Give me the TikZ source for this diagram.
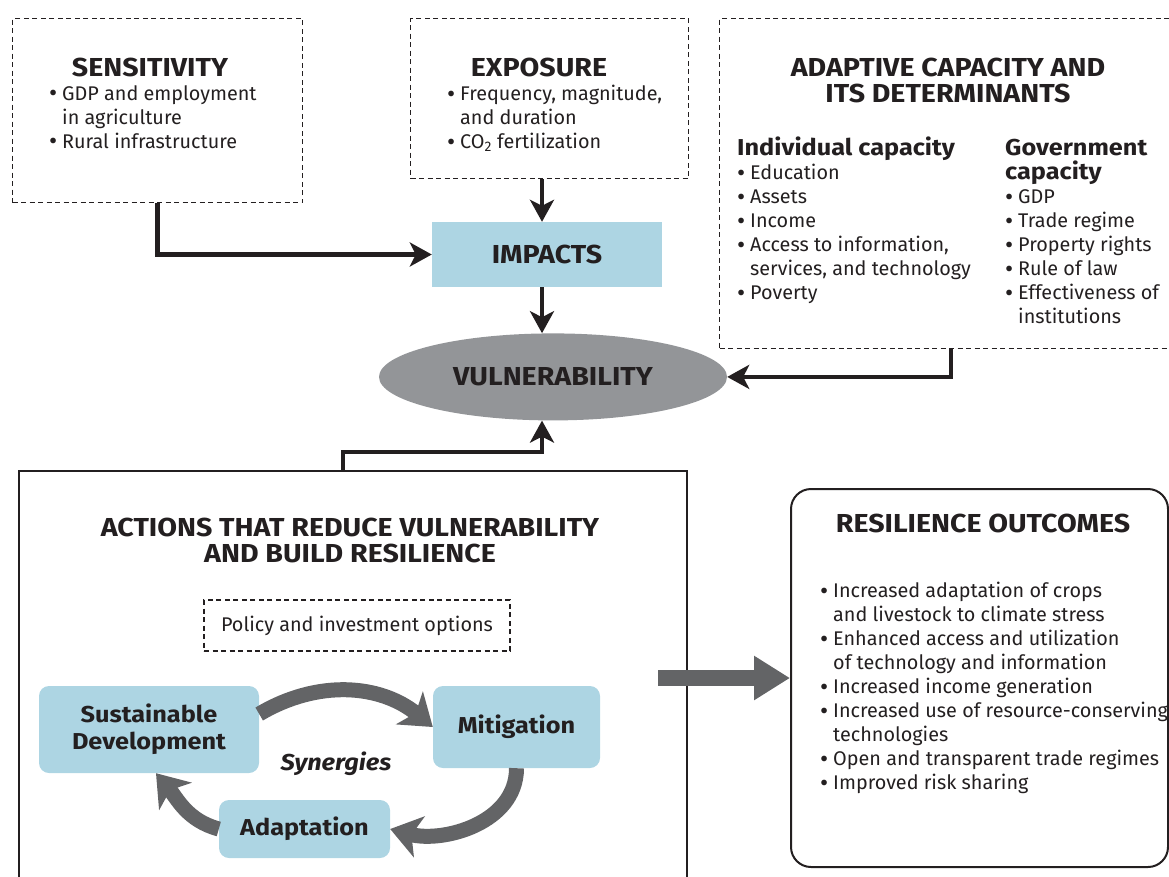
\documentclass[tikz,border=0pt]{standalone}
\usepackage{fontspec}
\setmainfont{Fira Sans}[BoldFeatures={FakeStretch=1.1},BoldItalicFeatures={FakeStretch=1.1}]
\usetikzlibrary{positioning,shapes.geometric,arrows.meta}
\definecolor{boxblue}{HTML}{ADD5E3}
\definecolor{ovalgray}{HTML}{939598}
\definecolor{arrgray}{HTML}{636466}
\definecolor{ink}{HTML}{231F20}
\newcommand{\bul}{\makebox[13pt][l]{\raisebox{-1.5pt}{\fontsize{25}{24}\selectfont\textbullet}}}
\newcommand{\cnt}{\hspace*{13pt}}

\begin{document}
\begin{tikzpicture}[x=1pt,y=-1pt,
every node/.style={text=ink,font=\fontsize{19.8}{24}\selectfont},
dbox/.style={draw=ink,line width=1.2pt,dash pattern=on 5pt off 3.5pt,anchor=north west,inner sep=0pt},
ttl/.style={font=\bfseries\fontsize{26}{26}\selectfont,align=center},
lst/.style={anchor=north west,align=left,inner sep=0pt},
bluebox/.style={fill=boxblue,align=center,font=\bfseries\fontsize{26}{26}\selectfont},
cbox/.style={fill=boxblue,rounded corners=10pt,align=center,font=\bfseries\fontsize{23}{27}\selectfont},
arr/.style={draw=ink,line width=4.5pt,-{Stealth[length=22pt,width=24pt,inset=6pt]}},
cyc/.style={draw=arrgray,line width=15pt,-{Stealth[length=30pt,width=42pt,inset=8pt]}}]
\useasboundingbox (0,0) rectangle (1169,876);
\node[dbox,minimum width=290pt,minimum height=184pt](sens) at (12,18){};
\node[dbox,minimum width=278pt,minimum height=160pt](expo) at (410,18){};
\node[dbox,minimum width=455pt,minimum height=330pt](adap) at (719,18){};
\node[ttl](sensttl) at (150,67){SENSITIVITY};
\node[lst](sensl) at (49,85){\bul GDP and employment\\\cnt in agriculture\\\bul Rural infrastructure};
\node[ttl](expottl) at (539,67){EXPOSURE};
\node[lst](expol) at (447,85){\bul Frequency, magnitude,\\\cnt and duration\\\bul CO\textsubscript{2} fertilization};
\node[ttl](adapttl) at (948,80){ADAPTIVE CAPACITY AND\\ITS DETERMINANTS};
\node[lst](indiv) at (737,137){\textbf{\fontsize{23}{24}\selectfont Individual capacity}\\\bul Education\\\bul Assets\\\bul Income\\\bul Access to information,\\\cnt services, and technology\\\bul Poverty};
\node[lst](govt) at (1005,139){\textbf{\fontsize{23}{24}\selectfont Government}\\\textbf{\fontsize{23}{24}\selectfont capacity}\\\bul GDP\\\bul Trade regime\\\bul Property rights\\\bul Rule of law\\\bul Effectiveness of\\\cnt institutions};
\node[bluebox,minimum width=230pt,minimum height=65pt](imp) at (547,254.5){IMPACTS};
\node[ellipse,fill=ovalgray,minimum width=348pt,minimum height=87pt,font=\bfseries\fontsize{26}{26}\selectfont,below=46pt of imp,xshift=6pt](vul){VULNERABILITY};
\node[draw=ink,line width=2pt,anchor=north west,minimum width=668pt,minimum height=412pt,inner sep=0pt](acts) at (18,470){};
\node[ttl](actsttl) at (350,540){ACTIONS THAT REDUCE VULNERABILITY\\AND BUILD RESILIENCE};
\node[dbox,anchor=center,minimum width=306pt,minimum height=51pt](pol) at (357,625.5){Policy and investment options};
\node[cbox,minimum width=220pt,minimum height=87pt](sd) at (149,729.5){Sustainable\\Development};
\node[cbox,minimum width=167pt,minimum height=82pt](mitig) at (516.5,727){Mitigation};
\node[cbox,minimum width=171pt,minimum height=58pt](adaptn) at (304.5,829){Adaptation};
\node[font=\bfseries\itshape\fontsize{23}{25}\selectfont](syn) at (336,764){Synergies};
\node[draw=ink,line width=2pt,rounded corners=20pt,anchor=north west,minimum width=377pt,minimum height=378pt](res) at (790,488){};
\node[ttl](resttl) at (983,523){RESILIENCE OUTCOMES};
\node[lst](resl) at (820,582){\bul Increased adaptation of crops\\\cnt and livestock to climate stress\\\bul Enhanced access and utilization\\\cnt of technology and information\\\bul Increased income generation\\\bul Increased use of resource-conserving\\\cnt technologies\\\bul Open and transparent trade regimes\\\bul Improved risk sharing};
\draw[arr] ([xshift=-5pt]imp.north |- expo.south) -- ([xshift=-5pt]imp.north);
\draw[arr] (sens.south) |- (imp.west);
\draw[arr] ([xshift=-5pt]imp.south) -- ([xshift=-5pt]imp.south |- vul.north);
\draw[arr] ([xshift=4pt]adap.south) |- (vul.east);
\draw[arr] ([xshift=-10pt]acts.north) -- ++(0,-18) -| ([xshift=-11pt]vul.south);
\draw[line width=16pt,draw=arrgray,-{Triangle[length=36pt,width=42pt]}] ([xshift=-30pt]acts.east |- res.west) -- (res.west);
\draw[cyc] (sd.8) to[bend left=35] (mitig.west);
\draw[cyc] (mitig.south) to[out=-90,in=-15] (adaptn.east);
\draw[cyc] (adaptn.west) to[out=165,in=-50] ([xshift=7pt]sd.south);
\end{tikzpicture}
\end{document}
